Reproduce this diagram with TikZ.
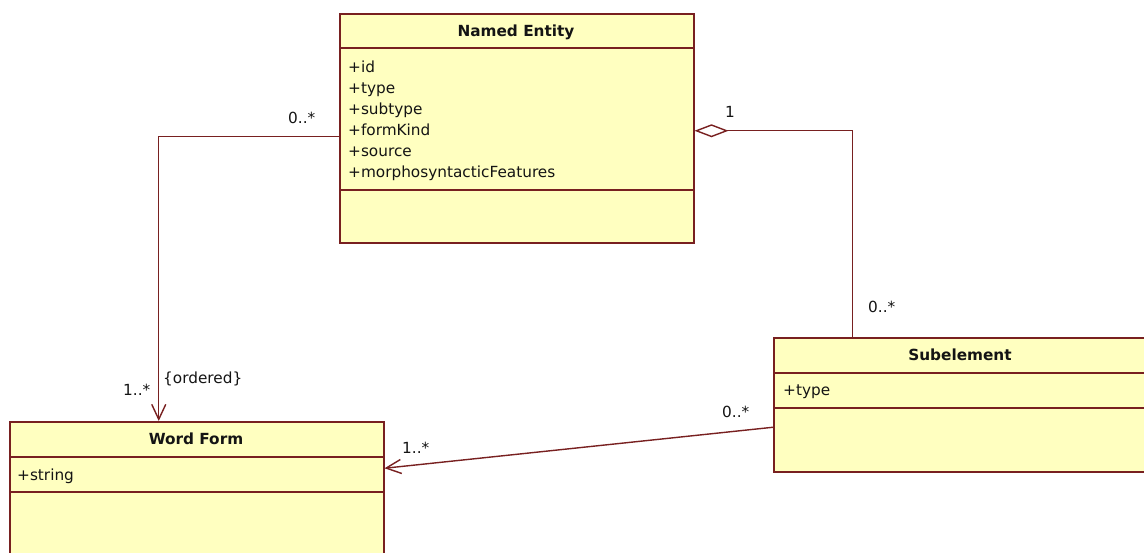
\documentclass[tikz,border=0pt]{standalone}
\usepackage{fontspec}
\setmainfont{DejaVu Sans}
\usetikzlibrary{arrows.meta,calc}
\definecolor{umlline}{RGB}{120,32,32}
\definecolor{umlfill}{RGB}{255,255,192}
\definecolor{umltext}{RGB}{20,20,20}

\begin{document}
\begin{tikzpicture}[x=1pt,y=-1pt,
  classbox/.style={draw=umlline, fill=umlfill, line width=1.5pt, inner sep=0pt, anchor=north west},
  divider/.style={draw=umlline, line width=1.5pt},
  title/.style={font=\fontsize{15.3}{21}\selectfont\bfseries, text=umltext, anchor=base, inner sep=0pt},
  attr/.style={font=\fontsize{15.3}{21}\selectfont, text=umltext, anchor=base west, inner sep=0pt},
  mult/.style={font=\fontsize{15.3}{21}\selectfont, text=umltext, anchor=base west, inner sep=0pt},
  link/.style={draw=umlline, line width=1.4pt},
  navarrow/.style={-{Straight Barb[length=15pt,width=14pt]}},
  aggregation/.style={{Diamond[open,length=34pt,width=13pt]}-}
]
\fill[white] (0,0) rectangle (1144,552);
\useasboundingbox (0,0) rectangle (1144,552);

% Named Entity class
\node[classbox, minimum width=354pt, minimum height=229pt] (ne) at (339,13) {};
\draw[divider] ([yshift=-35pt]ne.north west) -- ([yshift=-35pt]ne.north east);
\draw[divider] ([yshift=-177pt]ne.north west) -- ([yshift=-177pt]ne.north east);
\node[title] (ne-t) at (516,36) {Named Entity};
\foreach \a [count=\i from 0] in {+id,+type,+subtype,+formKind,+source,+morphosyntacticFeatures}
  \node[attr] (ne-a\i) at (348,{72+21*\i}) {\a};

% Word Form class
\node[classbox, minimum width=374pt, minimum height=140pt] (wf) at (9,421) {};
\draw[divider] ([yshift=-36pt]wf.north west) -- ([yshift=-36pt]wf.north east);
\draw[divider] ([yshift=-71pt]wf.north west) -- ([yshift=-71pt]wf.north east);
\node[title] (wf-t) at (196,444) {Word Form};
\node[attr] (wf-a0) at (17,480) {+string};

% Subelement class
\node[classbox, minimum width=374pt, minimum height=134pt] (sub) at (773,337) {};
\draw[divider] ([yshift=-36pt]sub.north west) -- ([yshift=-36pt]sub.north east);
\draw[divider] ([yshift=-71pt]sub.north west) -- ([yshift=-71pt]sub.north east);
\node[title] (sub-t) at (960,360) {Subelement};
\node[attr] (sub-a0) at (783,395) {+type};

% Associations
\draw[link,navarrow] ([yshift=-8.5pt]ne.west) -| ([xshift=-38pt]wf.north);
\draw[link,aggregation] ([yshift=-2.5pt]ne.east) -| ([xshift=-108pt]sub.north);
\draw[link,navarrow] ([yshift=-22.5pt]sub.west) -- ([yshift=23.5pt]wf.east);

% Multiplicities and constraints
\node[mult] (m1) at (288,123) {0..*};
\node[mult] (m2) at (123,395) {1..*};
\node[mult] (c1) at (163,383) {\{ordered\}};
\node[mult] (m3) at (725,117) {1};
\node[mult] (m4) at (868,312) {0..*};
\node[mult] (m5) at (722,417) {0..*};
\node[mult] (m6) at (402,453) {1..*};
\end{tikzpicture}
\end{document}
